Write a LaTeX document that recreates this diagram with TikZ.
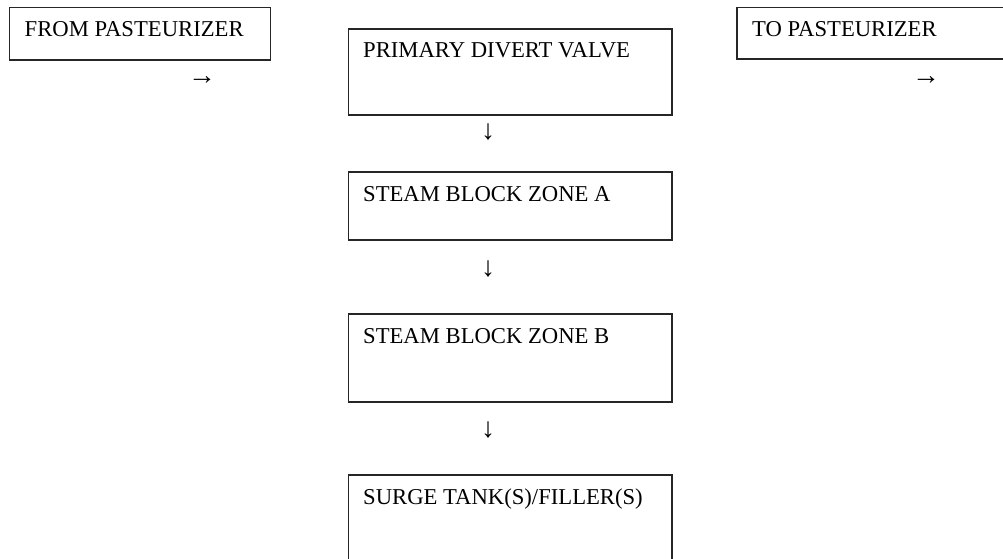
\documentclass[tikz,border=0pt]{standalone}
\usepackage{fontspec}
\setmainfont{Liberation Serif}
\usetikzlibrary{fit,calc}
\begin{document}
\begin{tikzpicture}[x=0.75pt,y=-0.75pt,
  box/.style={draw=black!85,line width=0.9pt,inner sep=0pt,fill=none},
  lbl/.style={inner sep=0pt,anchor=base west,font=\fontsize{17}{20}\selectfont},
  arr/.style={inner sep=0pt,font=\fontsize{21}{24}\selectfont}]
\useasboundingbox (0,0) rectangle (1003,559);
\clip (0,0) rectangle (1003,559);
% left column
\node[box,fit={(9.5,7.5)(270.5,60)}] (from) {};
\node[lbl] (fromt) at ($(from.north west)+(15.5,30)$) {FROM PASTEURIZER};
\node[arr] (froma) at (202,81) {→};
% right column
\node[box,fit={(737,7.5)(1012,59)}] (to) {};
\node[lbl] (tot) at ($(to.north west)+(15.5,30)$) {TO PASTEURIZER};
\node[arr] (toa) at (926,81) {→};
% centre column
\node[box,fit={(348.5,29)(672,115)}] (pdv) {};
\node[lbl] (pdvt) at ($(pdv.north west)+(15,29)$) {PRIMARY DIVERT VALVE};
\node[arr] (a1) at (488,132) {↓};
\node[box,fit={(348.5,172)(672,240)}] (za) {};
\node[lbl] (zat) at ($(za.north west)+(15,30)$) {STEAM BLOCK ZONE A};
\node[arr] (a2) at (488,269) {↓};
\node[box,fit={(348.5,314)(672,402)}] (zb) {};
\node[lbl] (zbt) at ($(zb.north west)+(15,30)$) {STEAM BLOCK ZONE B};
\node[arr] (a3) at (488,430) {↓};
\node[box,fit={(348.5,475)(672,575)}] (st) {};
\node[lbl] (stt) at ($(st.north west)+(15,30)$) {SURGE TANK(S)/FILLER(S)};
\end{tikzpicture}
\end{document}
